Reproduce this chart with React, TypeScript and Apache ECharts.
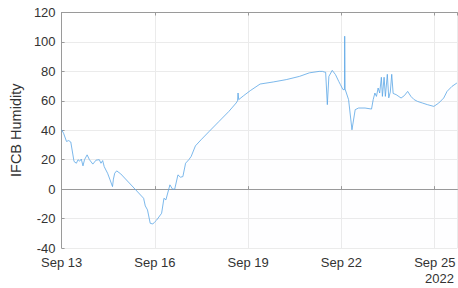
import React, { useEffect, useRef } from "react";
import * as echarts from "echarts";

// hours since 2022-09-13 00:00
const hours: number[] = [
  0, 1.5, 3.8, 5.5, 7.1, 9.6, 11.4, 12.7, 13.9, 15.2, 16.5, 17.7, 19.7, 21.5, 24.1, 26.6, 29.1, 30.4,
  31.7, 32.9, 34.2, 35.5, 37.4, 39.3, 40.0, 41.0, 42.5, 45.6, 63.3, 64.6, 66.3, 68.4, 70.4, 72.2,
  73.4, 77.2, 79.0, 80.5, 83.6, 85.6, 87.3, 89.8, 91.7, 93.6, 95.7, 98.2, 100.0, 103.3, 107.6,
  113.9, 121.5, 129.1, 134.7, 135.8, 136.2, 136.7, 140.5, 145.6, 153.2, 163.3, 173.4, 183.6, 191.2,
  198.8, 201.3, 202.6, 203.8, 205.1, 206.3, 208.9, 211.4, 213.9, 215.2, 217.2, 218.3, 218.5, 218.8,
  221.5, 224.1, 226.6, 229.2, 234.2, 239.2, 240.5, 241.8, 243.0, 244.3, 245.5, 246.8, 247.6, 248.9,
  249.9, 251.4, 252.5, 253.7, 254.8, 255.9, 258.2, 262.0, 264.5, 267.1, 269.6, 272.1, 274.7, 278.5,
  282.3, 287.3, 291.1, 294.9, 297.5, 301.3, 305.1,
];

const humidity: number[] = [
  40.3, 38, 32.4, 33, 32, 18.8, 17.6, 20, 19, 20.4, 15.8, 20, 23.3, 20, 17, 19.7, 20, 17.6,
  19.4, 15.3, 13, 10.8, 6.3, 1.7, 6.8, 10.8, 12.4, 10.4, -6.2, -11.4, -14.1, -23.2, -23.7, -22,
  -21, -16.4, -6.2, -7.3, 2.9, 0, 0, 9.7, 8.1, 8.5, 17.6, 20, 22.2, 29.4, 33.5,
  39.2, 46, 52.8, 58.5, 60, 65.3, 60.8, 63.5, 66.9, 71.4, 72.8, 74.4, 76.6, 79,
  80, 80, 79.6, 79.4, 57.4, 76.6, 80.7, 77.8, 73.2, 71, 67.6, 67.6, 103.9, 68,
  60.8, 40.3, 54, 55.1, 55.1, 54.4, 60.8, 65.3, 63, 68.7, 65.3, 76, 63, 76,
  63, 78, 62, 66, 78, 65, 64.2, 61.9, 63.5, 66.4, 63, 60.8, 59.6, 58.5,
  57.4, 56.2, 58.5, 61.9, 66.4, 69.8, 72.1,
];

const yTicks = { min: -40, max: 120, step: 20 };
const xRange = { min: 0, max: 305.5, step: 72 };
const startDay = 13;
const monthLabel = "Sep";
const yearLabel = "2022";
const yName = "IFCB Humidity";

export default function App() {
  const ref = useRef<HTMLDivElement>(null);
  useEffect(() => {
    document.body.style.margin = "0";
    const chart = echarts.init(ref.current!, null, { renderer: "svg" });
    const data = hours.map((h, i) => [h, humidity[i]]);
    const font = "Liberation Sans, Arial, Helvetica, sans-serif";
    const axisColor = "#9a9a9a";
    const labelColor = "#333333";
    chart.setOption({
      animation: false,
      backgroundColor: "#ffffff",
      grid: { left: 55.5, right: -3, top: 12.5, bottom: 40, containLabel: false },
      xAxis: [
        {
          type: "value",
          min: xRange.min,
          max: xRange.max,
          interval: xRange.step,
          position: "bottom",
          axisLine: { show: true, lineStyle: { color: axisColor, width: 1 } },
          axisTick: { show: true, inside: true, length: 3, lineStyle: { color: axisColor } },
          splitLine: { show: true, lineStyle: { color: "#ebebeb", width: 1 } },
          axisLabel: {
            show: true,
            margin: 8,
            fontSize: 13,
            fontFamily: font,
            color: labelColor,
            showMaxLabel: false,
            formatter: (v: number) => `${monthLabel} ${startDay + Math.round(v / 24)}`,
          },
        },
        {
          type: "value",
          min: xRange.min,
          max: xRange.max,
          interval: xRange.step,
          position: "top",
          axisLine: { show: true, lineStyle: { color: axisColor, width: 1 } },
          axisTick: { show: true, inside: true, length: 3, lineStyle: { color: axisColor } },
          splitLine: { show: false },
          axisLabel: { show: false },
        },
      ],
      yAxis: {
        type: "value",
        min: yTicks.min,
        max: yTicks.max,
        interval: yTicks.step,
        name: yName,
        nameLocation: "middle",
        nameGap: 32,
        nameRotate: 90,
        nameTextStyle: { fontSize: 14.5, fontFamily: font, color: labelColor },
        axisLine: { show: true, lineStyle: { color: axisColor, width: 1 } },
        axisTick: { show: true, inside: true, length: 3, lineStyle: { color: axisColor } },
        splitLine: { show: true, lineStyle: { color: "#ebebeb", width: 1 } },
        axisLabel: { margin: 6, fontSize: 13, fontFamily: font, color: labelColor },
      },
      graphic: [
        {
          type: "text",
          right: 4,
          top: 272,
          style: { text: yearLabel, fontSize: 13, fontFamily: font, fill: labelColor },
        },
      ],
      series: [
        {
          type: "line",
          xAxisIndex: 0,
          data,
          showSymbol: false,
          symbol: "none",
          clip: true,
          lineStyle: { color: "#5aa6e6", width: 0.8 },
          areaStyle: { color: "rgba(90,166,230,0.012)", origin: "start" },
        },
      ],
    });
    return () => chart.dispose();
  }, []);
  return <div ref={ref} style={{ width: 458, height: 288 }} />;
}
